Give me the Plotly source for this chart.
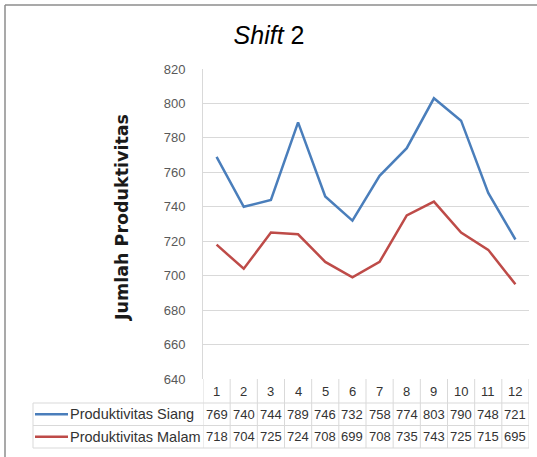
import plotly.graph_objects as go

categories = [1, 2, 3, 4, 5, 6, 7, 8, 9, 10, 11, 12]
siang = [769, 740, 744, 789, 746, 732, 758, 774, 803, 790, 748, 721]
malam = [718, 704, 725, 724, 708, 699, 708, 735, 743, 725, 715, 695]
series_names = ["Produktivitas Siang", "Produktivitas Malam"]
y_ticks = [640, 660, 680, 700, 720, 740, 760, 780, 800, 820]

W, H = 537, 457
L, R, T, B = 203, 529, 69, 379
pw, ph = R - L, B - T

def py(p):  # pixel y -> paper y
    return (B - p) / ph

def px(p):  # pixel x -> paper x
    return (p - L) / pw

blue = "#4A7EBB"
red = "#BE4B48"
grid = "#D9D9D9"
txt = "#333333"
FONT = "Liberation Sans"

fig = go.Figure()
fig.add_trace(go.Scatter(x=categories, y=siang, mode="lines", name=series_names[0],
                         line=dict(color=blue, width=2.5)))
fig.add_trace(go.Scatter(x=categories, y=malam, mode="lines", name=series_names[1],
                         line=dict(color=red, width=2.5)))

shapes = []
annotations = []

row_lines = [379, 403, 425.5, 448]
for rl in row_lines[1:]:
    shapes.append(dict(type="line", xref="paper", yref="paper", x0=px(33), x1=1,
                       y0=py(rl), y1=py(rl), line=dict(color=grid, width=1)))
for k in range(len(categories) + 1):
    shapes.append(dict(type="line", xref="x", yref="paper", x0=k + 0.5, x1=k + 0.5,
                       y0=py(row_lines[0]), y1=py(row_lines[-1]), line=dict(color=grid, width=1)))
shapes.append(dict(type="line", xref="paper", yref="paper", x0=px(33), x1=px(33),
                   y0=py(row_lines[1]), y1=py(row_lines[-1]), line=dict(color=grid, width=1)))

for c in categories:
    annotations.append(dict(x=c, y=py((row_lines[0] + row_lines[1]) / 2), xref="x", yref="paper",
                            xanchor="center", yanchor="middle",
                            text=str(c), showarrow=False, font=dict(family=FONT, size=13, color=txt)))
for ri, (vals, col, name) in enumerate([(siang, blue, series_names[0]), (malam, red, series_names[1])]):
    ymid = py((row_lines[ri + 1] + row_lines[ri + 2]) / 2)
    for c, v in zip(categories, vals):
        annotations.append(dict(x=c, y=ymid, xref="x", yref="paper", text=str(v), showarrow=False,
                                xanchor="center", yanchor="middle",
                                font=dict(family=FONT, size=13, color=txt)))
    shapes.append(dict(type="line", xref="paper", yref="paper", x0=px(35), x1=px(68),
                       y0=ymid, y1=ymid, line=dict(color=col, width=2.5)))
    annotations.append(dict(x=px(68), y=ymid, xref="paper", yref="paper", text=name, showarrow=False,
                            xanchor="left", yanchor="middle",
                            font=dict(family=FONT, size=14.5, color=txt)))

shapes.append(dict(type="line", xref="paper", yref="paper", x0=px(5), x1=px(540),
                   y0=py(5), y1=py(5), line=dict(color="#8C8C8C", width=1.5)))
shapes.append(dict(type="line", xref="paper", yref="paper", x0=px(5), x1=px(5),
                   y0=py(5), y1=py(460), line=dict(color="#8C8C8C", width=1.5)))

annotations.append(dict(x=px(122), y=py(218), xref="paper", yref="paper", text="Jumlah Produktivitas",
                        textangle=-90, showarrow=False, xanchor="center", yanchor="middle",
                        font=dict(family="DejaVu Sans", size=17.5, color="#1a1a1a", weight="bold")))

fig.update_layout(
    width=W, height=H,
    margin=dict(l=L, r=W - R, t=T, b=H - B),
    paper_bgcolor="white", plot_bgcolor="white",
    showlegend=False,
    title=dict(text="<i>Shift</i> 2", x=269 / W, xref="container", xanchor="center",
               y=1 - 35 / H, yref="container", yanchor="middle",
               font=dict(family=FONT, size=25, color="#000000")),
    shapes=shapes, annotations=annotations,
)
fig.update_xaxes(range=[0.5, 12.5], showticklabels=False, showgrid=False, zeroline=False,
                 showline=False, fixedrange=True)
fig.update_yaxes(range=[640, 820], tickvals=y_ticks, showgrid=True, gridcolor=grid, gridwidth=1,
                 zeroline=False, showline=True, linecolor=grid, linewidth=1, fixedrange=True,
                 ticklabelstandoff=14, tickfont=dict(family=FONT, size=13, color="#595959"))

fig.write_html("out.html", config={"displayModeBar": False},
               post_script="document.body.style.margin='0';")
